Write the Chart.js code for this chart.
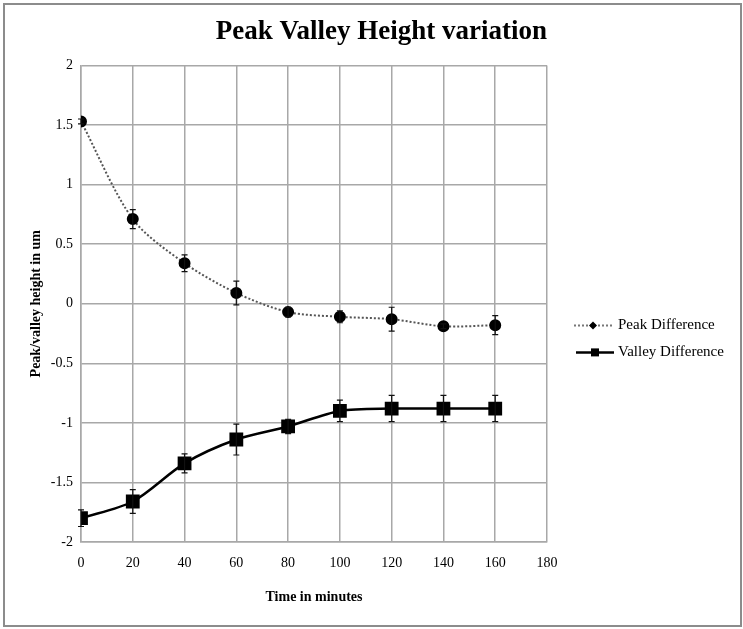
<!DOCTYPE html>
<html>
<head>
<meta charset="utf-8">
<title>Peak Valley Height variation</title>
<script src="https://cdn.jsdelivr.net/npm/chart.js@4.4.1/dist/chart.umd.min.js"></script>
<style>
    html, body { margin: 0; padding: 0; background: #fff; }
    #wrap { width: 743px; height: 629px; }
</style>
</head>
<body>
<div id="wrap">
    <canvas id="peakChart" width="743" height="629"></canvas>
</div>
<script>
// time points (minutes)
const times = [0, 20, 40, 60, 80, 100, 120, 140, 160];

// peak difference (um) and its error
const peakValues = [1.53, 0.71, 0.34, 0.09, -0.07, -0.11, -0.13, -0.19, -0.18];
const peakErrors = [0.02, 0.08, 0.07, 0.10, 0.04, 0.05, 0.10, 0.02, 0.08];

// valley difference (um) and its error
const valleyValues = [-1.80, -1.66, -1.34, -1.14, -1.03, -0.90, -0.88, -0.88, -0.88];
const valleyErrors = [0.07, 0.10, 0.08, 0.13, 0.06, 0.09, 0.11, 0.11, 0.11];

const seriesLabels = ["Peak Difference", "Valley Difference"];

const serif = "'Liberation Serif', 'Times New Roman', serif";
const gridColor = "#a8a8a8";

document.addEventListener("DOMContentLoaded", () => {

    /* ---------- error bars, drawn through the y scale ---------- */
    const errorBars = {
        id: "errorBars",
        afterDatasetsDraw(chart) {
            const ctx = chart.ctx;
            const yScale = chart.scales.y;
            ctx.save();
            ctx.strokeStyle = "#111";
            ctx.lineWidth = 1.2;
            chart.data.datasets.forEach((ds, i) => {
                const meta = chart.getDatasetMeta(i);
                meta.data.forEach((pt, j) => {
                    const err = ds.errors[j];
                    const yTop = yScale.getPixelForValue(ds.data[j].y + err);
                    const yBot = yScale.getPixelForValue(ds.data[j].y - err);
                    ctx.beginPath();
                    ctx.moveTo(pt.x, yTop);
                    ctx.lineTo(pt.x, yBot);
                    ctx.moveTo(pt.x - 3, yTop);
                    ctx.lineTo(pt.x + 3, yTop);
                    ctx.moveTo(pt.x - 3, yBot);
                    ctx.lineTo(pt.x + 3, yBot);
                    ctx.stroke();
                });
            });
            ctx.restore();
        }
    };

    /* ---------- legend on the right + outer frame ---------- */
    const sideLegend = {
        id: "sideLegend",
        afterDraw(chart) {
            const ctx = chart.ctx;
            const area = chart.chartArea;
            const x0 = area.right + 27;
            const textX = area.right + 71;
            const rows = [area.top + 260, area.top + 287];

            ctx.save();

            // peak row
            ctx.strokeStyle = "#777";
            ctx.lineWidth = 2;
            ctx.setLineDash([2, 2]);
            ctx.beginPath();
            ctx.moveTo(x0, rows[0]);
            ctx.lineTo(x0 + 38, rows[0]);
            ctx.stroke();
            ctx.setLineDash([]);
            ctx.fillStyle = "#000";
            ctx.beginPath();
            ctx.moveTo(x0 + 19, rows[0] - 4);
            ctx.lineTo(x0 + 23, rows[0]);
            ctx.lineTo(x0 + 19, rows[0] + 4);
            ctx.lineTo(x0 + 15, rows[0]);
            ctx.closePath();
            ctx.fill();

            // valley row
            ctx.strokeStyle = "#000";
            ctx.lineWidth = 2.5;
            ctx.beginPath();
            ctx.moveTo(x0 + 2, rows[1]);
            ctx.lineTo(x0 + 40, rows[1]);
            ctx.stroke();
            ctx.fillRect(x0 + 17, rows[1] - 4, 8, 8);

            ctx.font = "15px " + serif;
            ctx.textBaseline = "middle";
            ctx.fillStyle = "#000";
            ctx.fillText(seriesLabels[0], textX, rows[0]);
            ctx.fillText(seriesLabels[1], textX, rows[1]);

            // frame round the whole picture
            ctx.strokeStyle = "#8c8c8c";
            ctx.lineWidth = 2;
            ctx.strokeRect(4, 4, 737, 622);

            ctx.restore();
        }
    };

    const ctx = document.getElementById("peakChart").getContext("2d");

    new Chart(ctx, {
        type: "line",
        data: {
            datasets: [
                {
                    label: seriesLabels[0],
                    data: times.map((t, i) => ({ x: t, y: peakValues[i] })),
                    errors: peakErrors,
                    borderColor: "#555",
                    borderWidth: 2,
                    borderDash: [2, 2],
                    tension: 0.3,
                    pointStyle: "circle",
                    pointRadius: 5,
                    pointBackgroundColor: "#000",
                    pointBorderColor: "#000",
                    fill: false
                },
                {
                    label: seriesLabels[1],
                    data: times.map((t, i) => ({ x: t, y: valleyValues[i] })),
                    errors: valleyErrors,
                    borderColor: "#000",
                    borderWidth: 2.5,
                    tension: 0.3,
                    pointStyle: "rect",
                    pointRadius: 8,
                    pointBackgroundColor: "#000",
                    pointBorderColor: "#000",
                    fill: false
                }
            ]
        },
        options: {
            responsive: false,
            animation: false,
            layout: {
                padding: { left: 10, right: 196, top: 0, bottom: 17 }
            },
            plugins: {
                legend: { display: false },
                tooltip: { enabled: false },
                title: {
                    display: true,
                    align: "end",
                    text: "Peak Valley Height variation",
                    color: "#000",
                    font: { family: serif, size: 27, weight: "bold" },
                    padding: { top: 16, bottom: 17 }
                }
            },
            scales: {
                x: {
                    type: "linear",
                    min: 0,
                    max: 180,
                    afterFit(scale) { scale.height = 70; },
                    ticks: {
                        stepSize: 20,
                        color: "#000",
                        padding: 13,
                        maxRotation: 0,
                        font: { family: serif, size: 14 }
                    },
                    grid: { color: gridColor, lineWidth: 1.5, drawTicks: false },
                    border: { color: gridColor, width: 1.5 },
                    title: {
                        display: true,
                        text: "Time in minutes",
                        color: "#000",
                        font: { family: serif, size: 14, weight: "bold" },
                        padding: { top: 0, bottom: 6 }
                    }
                },
                y: {
                    type: "linear",
                    min: -2,
                    max: 2,
                    afterFit(scale) { scale.width = 71; },
                    ticks: {
                        stepSize: 0.5,
                        color: "#000",
                        padding: 8,
                        font: { family: serif, size: 14 },
                        callback: (value) => String(value)
                    },
                    grid: { color: gridColor, lineWidth: 1.5, drawTicks: false },
                    border: { color: gridColor, width: 1.5 },
                    title: {
                        display: true,
                        text: "Peak/valley height in um",
                        color: "#000",
                        font: { family: serif, size: 14, weight: "bold" },
                        padding: { top: 18, bottom: 0 }
                    }
                }
            }
        },
        plugins: [errorBars, sideLegend]
    });

});
</script>
</body>
</html>
